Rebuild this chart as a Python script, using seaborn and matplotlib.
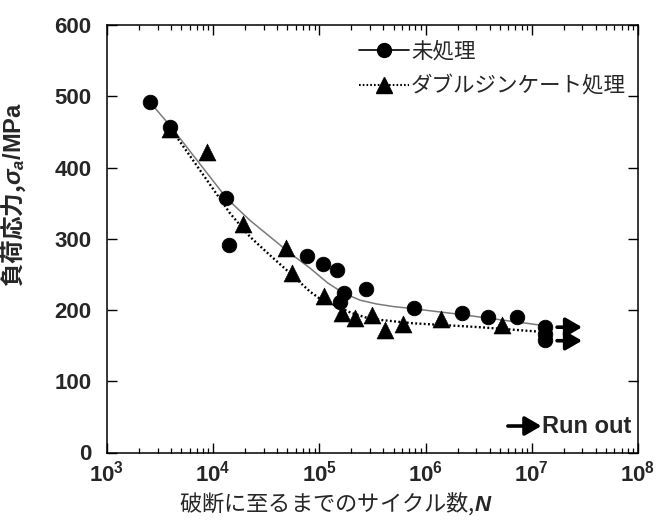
import numpy as np
import pandas as pd
import matplotlib
matplotlib.use("Agg")
import matplotlib.pyplot as plt
from matplotlib.lines import Line2D
import seaborn as sns

# Fatigue test results: untreated specimens (circles)
untreated_N = [2540, 3920, 13100, 14200, 76900, 109000, 146500, 155000, 170600,
               273000, 778000, 2.22e6, 3.89e6, 7.21e6, 1.33e7, 1.33e7, 1.33e7]
untreated_S = [492, 457.6, 358, 291, 276, 264.5, 256.3, 212, 223.6,
               229, 202.5, 195.5, 190, 190, 176, 167, 158]

# Double zincate treated specimens (triangles)
zincate_N = [3920, 8790, 19200, 48500, 54800, 111000, 162000, 216000,
             310000, 415000, 608000, 1.39e6, 5.27e6]
zincate_S = [454, 422.5, 321, 286.8, 252, 219.8, 195.5, 188.5,
             193, 172, 180.5, 187, 179]

# S-N fit curves
fit_untreated_N = [2540, 3980, 7080, 13400, 22200, 34300, 52800, 81500, 120000,
                   168000, 241000, 346000, 497000, 713000, 2.11e6, 5.01e6, 1.19e7]
fit_untreated_S = [492, 458, 410, 357, 326, 303, 280, 259, 238,
                   224, 214, 208.6, 205, 202.5, 194, 186.5, 179]
fit_zincate_N = [3980, 7080, 14400, 22200, 34300, 52800, 81500, 101000, 126000,
                 200000, 282000, 386000, 759000, 3.24e6, 1.11e7]
fit_zincate_S = [455, 402, 336, 303, 277, 252, 226, 216, 209.6,
                 196, 189, 186, 181.5, 176, 170]

# Run-out specimens (no failure)
runout_N = [1.73e7, 1.73e7]
runout_S = [176, 157]
runout_end_N = [2.97e7, 2.97e7]

y_ticks = [0, 100, 200, 300, 400, 500, 600]
legend_labels = ["未処理", "ダブルジンケート処理"]

sns.set_theme(style="ticks")
plt.rcParams["font.family"] = ["Liberation Sans", "Noto Sans CJK JP"]
plt.rcParams["mathtext.fontset"] = "custom"
plt.rcParams["mathtext.it"] = "Liberation Sans:italic:bold"
plt.rcParams["mathtext.rm"] = "Liberation Sans:bold"
plt.rcParams["mathtext.bf"] = "Liberation Sans:bold"

fig = plt.figure(figsize=(6.7, 5.2), dpi=100)
ax = fig.add_axes([107 / 670, 1 - 452.5 / 520, 531 / 670, 427.2 / 520])

fit_u = pd.DataFrame({"N": fit_untreated_N, "S": fit_untreated_S})
fit_z = pd.DataFrame({"N": fit_zincate_N, "S": fit_zincate_S})
sns.lineplot(data=fit_u, x="N", y="S", ax=ax, color="#7a7a7a", lw=1.1,
             sort=False, estimator=None)
sns.lineplot(data=fit_z, x="N", y="S", ax=ax, color="black", lw=1.7,
             sort=False, estimator=None, dashes=False)
ax.lines[-1].set_linestyle((0, (0.8, 1.0)))

pts_u = pd.DataFrame({"N": untreated_N, "S": untreated_S})
pts_z = pd.DataFrame({"N": zincate_N, "S": zincate_S})
sns.scatterplot(data=pts_u, x="N", y="S", ax=ax, marker="o", s=110,
                color="black", edgecolor="black", linewidth=0.6, zorder=4)
sns.scatterplot(data=pts_z, x="N", y="S", ax=ax, marker="^", s=150,
                color="black", edgecolor="black", linewidth=0.4, zorder=4)

arrow_kw = dict(arrowstyle="-|>,head_length=0.55,head_width=0.32", lw=2.6,
                color="black", mutation_scale=18, shrinkA=0, shrinkB=0)
for n0, n1, s in zip(runout_N, runout_end_N, runout_S):
    ax.annotate("", xy=(n1, s), xytext=(n0, s), arrowprops=arrow_kw)

ax.set_xscale("log")
ax.set_xlim(1e3, 1e8)
ax.set_ylim(0, 600)
ax.set_yticks(y_ticks)
ax.xaxis.set_minor_locator(matplotlib.ticker.LogLocator(base=10, subs=np.arange(2, 10)))
ax.xaxis.set_minor_formatter(matplotlib.ticker.NullFormatter())
ax.tick_params(which="both", direction="in", top=True, right=True, color="black")
ax.tick_params(which="major", length=7, width=1.0)
ax.tick_params(which="minor", length=3.5, width=0.9)
ax.tick_params(axis="y", which="major", pad=11, labelsize=16)
ax.tick_params(axis="x", which="major", pad=6, labelsize=16)
for lab in ax.get_xticklabels() + ax.get_yticklabels():
    lab.set_fontweight("bold")
for sp in ax.spines.values():
    sp.set_linewidth(1.1)
    sp.set_color("black")

ax.set_xlabel("破断に至るまでのサイクル数,$N$", fontfamily="Noto Sans CJK JP",
              fontsize=16, labelpad=3)
ax.xaxis.set_label_coords(0.43, -0.088)
ax.set_ylabel("負荷応力,$\\sigma_a\\mathrm{/MPa}$", fontfamily="Noto Sans CJK JP",
              fontweight="bold", fontsize=17)
ax.yaxis.set_label_coords(-0.148, 0.605)

ax.annotate("", xy=(0.818, 0.062), xytext=(0.755, 0.062), xycoords="axes fraction",
            arrowprops=arrow_kw)
ax.text(0.82, 0.062, "Run out", transform=ax.transAxes, ha="left", va="center",
        fontsize=17, fontweight="bold", family="Liberation Sans")

handles = [
    Line2D([], [], color="black", lw=1.2, marker="o", markersize=10),
    Line2D([], [], color="black", lw=1.5, ls=(0, (0.8, 1.0)), marker="^", markersize=12),
]
leg = ax.legend(handles, legend_labels, loc="upper left", bbox_to_anchor=(0.455, 0.99),
                frameon=False, borderpad=0, handlelength=2.3, handletextpad=0.1,
                labelspacing=0.6, prop={"family": "Noto Sans CJK JP", "size": 15.5})

ax.set_facecolor("white")
fig.patch.set_facecolor("white")
fig.savefig("out.png", dpi=100, facecolor="white")
